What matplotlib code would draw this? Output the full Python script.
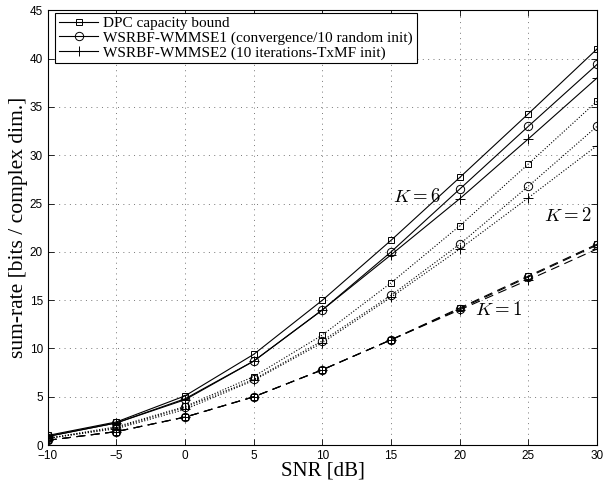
import matplotlib.pyplot as plt

plt.rcParams['mathtext.fontset'] = 'cm'

snr = [-10, -5, 0, 5, 10, 15, 20, 25, 30]

# K = 6 (solid)
dpc_k6 = [1.0, 2.4, 5.1, 9.4, 15.0, 21.2, 27.7, 34.3, 41.0]
wmmse1_k6 = [0.9, 2.3, 4.8, 8.7, 14.0, 20.0, 26.5, 33.0, 39.4]
wmmse2_k6 = [0.9, 2.3, 4.7, 8.7, 14.0, 19.7, 25.5, 31.7, 38.0]

# K = 2 (dotted)
dpc_k2 = [0.7, 1.9, 4.0, 7.1, 11.4, 16.8, 22.7, 29.1, 35.6]
wmmse1_k2 = [0.7, 1.8, 3.9, 6.8, 10.8, 15.5, 20.8, 26.8, 33.0]
wmmse2_k2 = [0.7, 1.7, 3.7, 6.7, 10.6, 15.3, 20.3, 25.6, 31.0]

# K = 1 (dashed)
dpc_k1 = [0.5, 1.4, 2.9, 5.0, 7.8, 10.9, 14.2, 17.5, 20.8]
wmmse1_k1 = [0.5, 1.4, 2.9, 5.0, 7.8, 10.9, 14.1, 17.4, 20.7]
wmmse2_k1 = [0.5, 1.4, 2.9, 5.0, 7.8, 10.9, 14.0, 17.1, 20.3]

labels = ['DPC capacity bound',
          'WSRBF-WMMSE1 (convergence/10 random init)',
          'WSRBF-WMMSE2 (10 iterations-TxMF init)']

fig = plt.figure(figsize=(6.05, 4.87), dpi=100)
ax = fig.add_axes([0.079, 0.086, 0.908, 0.893])

mk = dict(color='black', lw=0.8, mfc='none', mec='black', mew=0.7)
groups = [((dpc_k6, wmmse1_k6, wmmse2_k6), '-'),
          ((dpc_k2, wmmse1_k2, wmmse2_k2), (0, (1, 1.6))),
          ((dpc_k1, wmmse1_k1, wmmse2_k1), (0, (8, 5)))]
markers = [('s', 4.5), ('o', 6), ('+', 6.5)]
for i, (series, ls) in enumerate(groups):
    for j, ys in enumerate(series):
        m, ms = markers[j]
        ax.plot(snr, ys, linestyle=ls, marker=m, ms=ms,
                label=labels[j] if i == 0 else None, **mk)

ax.text(15.1, 25.7, r'$K=6$', fontsize=13.5, va='center')
ax.text(26.1, 23.8, r'$K=2$', fontsize=13.5, va='center')
ax.text(21.1, 14.0, r'$K=1$', fontsize=13.5, va='center')

ax.set_xlim(-10, 30)
ax.set_ylim(0, 45)
ax.set_xticks(range(-10, 31, 5))
ax.set_yticks(range(0, 46, 5))
ax.set_xticklabels(['\u221210', '\u22125', '0', '5', '10', '15', '20', '25', '30'])
for t in ax.get_xticklabels() + ax.get_yticklabels():
    t.set_family('Liberation Sans')
    t.set_fontsize(8.5)
ax.tick_params(direction='in', top=True, right=True, length=4, width=0.6)
ax.grid(True, linestyle=(0, (1, 4.5)), color='#777777', lw=0.7)
for s in ax.spines.values():
    s.set_linewidth(0.8)

ax.set_xlabel('SNR [dB]', family='Liberation Serif', fontsize=15, labelpad=0)
ax.set_ylabel('sum-rate [bits / complex dim.]', family='Liberation Serif', fontsize=15.5, labelpad=1)

leg = ax.legend(loc='upper left', bbox_to_anchor=(0.013, 0.994),
                prop={'family': 'Liberation Serif', 'size': 11},
                fancybox=False, edgecolor='black', framealpha=1,
                borderaxespad=0, handlelength=2.6, handletextpad=0.3,
                borderpad=0.25, labelspacing=0.05)
leg.get_frame().set_linewidth(0.8)

fig.savefig('out.png', dpi=100)
